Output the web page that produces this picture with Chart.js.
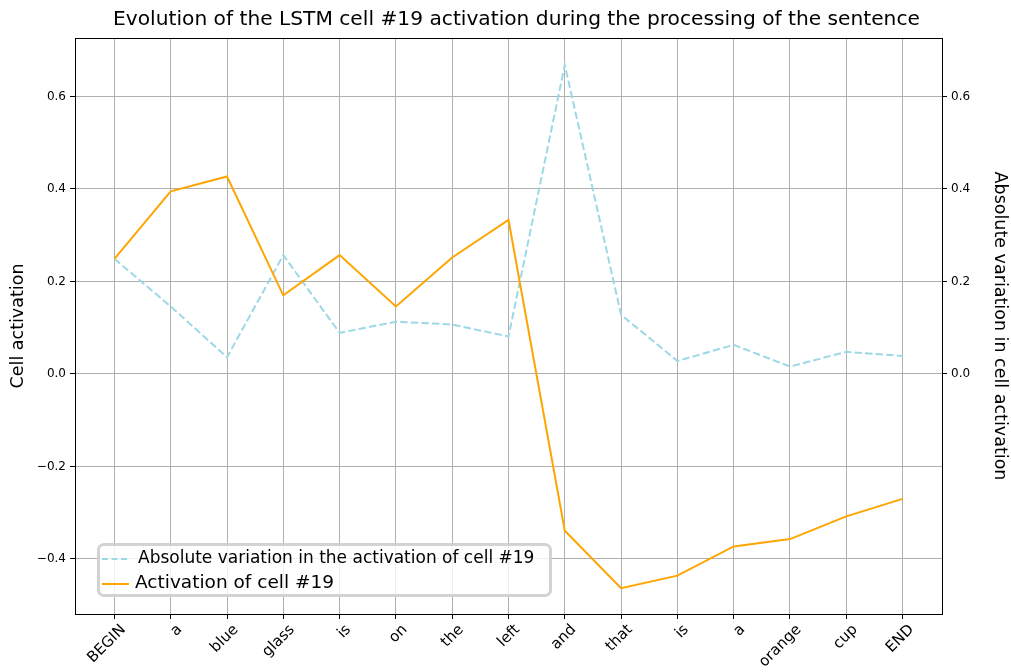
<!DOCTYPE html>
<html>
<head>
<meta charset="utf-8">
<script src="https://cdn.jsdelivr.net/npm/chart.js@4/dist/chart.umd.min.js"></script>
<style>
  html, body { margin: 0; padding: 0; background: #fff; }
  #wrap { position: relative; width: 1011px; height: 672px; }
  #title {
    position: absolute; left: 0; top: 6px; width: 1033px; text-align: center;
    font-family: "DejaVu Sans", sans-serif; font-size: 20.2px; line-height: 24px; color: #000;
    white-space: nowrap;
  }
  #legend {
    position: absolute; left: 97px; top: 543px; width: 449px; height: 48px;
    border: 3px solid rgba(200,200,200,0.8); border-radius: 7px;
    background: rgba(255,255,255,0.8);
    font-family: "DejaVu Sans", sans-serif; color: #000;
  }
  .row { position: absolute; left: 0; white-space: nowrap; }
  .swatch { position: absolute; left: 2px; width: 27px; height: 0; }
</style>
</head>
<body>
<div id="wrap">
  <canvas id="chart" width="1011" height="672"></canvas>
  <div id="title">Evolution of the LSTM cell #19 activation during the processing of the sentence</div>
  <div id="legend">
    <div class="row" style="top:1px;font-size:17px;">
      <span class="swatch" style="top:11px;border-top:2px dashed #9dd8e6;width:25px;"></span>
      <span style="position:absolute;left:38px;">Absolute&nbsp;variation&nbsp;in&nbsp;the&nbsp;activation&nbsp;of&nbsp;cell&nbsp;#19</span>
    </div>
    <div class="row" style="top:25px;font-size:18.5px;">
      <span class="swatch" style="top:12px;border-top:2px solid #ffa500;"></span>
      <span style="position:absolute;left:35px;">Activation&nbsp;of&nbsp;cell&nbsp;#19</span>
    </div>
  </div>
</div>
<script>
// sentence tokens on the x axis
const words = ["BEGIN", "a", "blue", "glass", "is", "on", "the", "left", "and", "that", "is", "a", "orange", "cup", "END"]

// cell #19 activation (left axis)
const activation = [0.249, 0.395, 0.427, 0.170, 0.257, 0.146, 0.252, 0.333, -0.339, -0.463, -0.436, -0.373, -0.357, -0.308, -0.270]

// absolute variation of the activation (right axis)
const variation = [0.249, 0.146, 0.036, 0.257, 0.089, 0.113, 0.107, 0.081, 0.668, 0.128, 0.028, 0.063, 0.016, 0.048, 0.039]

const leftTicks = [-0.4, -0.2, 0.0, 0.2, 0.4, 0.6]
const rightTicks = [0.0, 0.2, 0.4, 0.6]

const font = "DejaVu Sans"
const fmt = v => (v < 0 ? "\u2212" : "") + Math.abs(v).toFixed(1)

const frame = {
  id: "frame",
  afterDraw(chart) {
    const { ctx, chartArea: a } = chart
    ctx.save()
    ctx.strokeStyle = "#000"
    ctx.lineWidth = 1
    ctx.strokeRect(Math.round(a.left) + 0.5, Math.round(a.top) + 0.5, Math.round(a.right - a.left), Math.round(a.bottom - a.top))
    ctx.restore()
  }
}

new Chart(document.getElementById("chart"), {
  type: "line",
  data: {
    datasets: [
      {
        label: "Absolute variation in the activation of cell #19",
        data: variation.map((v, i) => ({ x: i, y: v })),
        yAxisID: "y2",
        borderColor: "#9dd8e6",
        borderWidth: 2,
        borderDash: [7.4, 3.2],
        pointRadius: 0,
        tension: 0,
        order: 2
      },
      {
        label: "Activation of cell #19",
        data: activation.map((v, i) => ({ x: i, y: v })),
        yAxisID: "y",
        borderColor: "#ffa500",
        borderWidth: 2,
        pointRadius: 0,
        tension: 0,
        order: 1
      }
    ]
  },
  options: {
    responsive: false,
    animation: false,
    layout: { padding: { top: 38 } },
    plugins: {
      legend: { display: false },
      tooltip: { enabled: false },
      title: { display: false }
    },
    scales: {
      x: {
        type: "linear",
        min: -0.7,
        max: 14.7,
        afterBuildTicks: s => { s.ticks = words.map((w, i) => ({ value: i })) },
        afterFit: s => { s.height = 58 },
        grid: { color: "#b0b0b0", lineWidth: 1, tickColor: "#000", tickLength: 5 },
        border: { color: "#000", width: 1 },
        ticks: {
          autoSkip: false,
          minRotation: 45,
          maxRotation: 45,
          labelOffset: 9,
          padding: 2,
          color: "#000",
          font: { family: font, size: 15 },
          callback: v => words[v]
        }
      },
      y: {
        position: "left",
        min: -0.519,
        max: 0.7265,
        afterBuildTicks: s => { s.ticks = leftTicks.map(v => ({ value: v })) },
        afterFit: s => { s.width = 75 },
        grid: { color: "#b0b0b0", lineWidth: 1, tickColor: "#000", tickLength: 5 },
        border: { color: "#000", width: 1 },
        ticks: { color: "#000", padding: 4, font: { family: font, size: 12 }, callback: fmt },
        title: {
          display: true,
          text: "Cell activation",
          color: "#000",
          font: { family: font, size: 17.5 },
          padding: { top: 7.5, bottom: 0 }
        }
      },
      y2: {
        position: "right",
        min: -0.519,
        max: 0.7265,
        afterBuildTicks: s => { s.ticks = rightTicks.map(v => ({ value: v })) },
        afterFit: s => { s.width = 69 },
        grid: { drawOnChartArea: false, tickColor: "#000", tickLength: 5 },
        border: { color: "#000", width: 1 },
        ticks: { color: "#000", padding: 4, font: { family: font, size: 12 }, callback: fmt },
        title: {
          display: true,
          text: "Absolute variation in cell activation",
          color: "#000",
          font: { family: font, size: 17.5 },
          padding: { top: 0.5, bottom: 0 }
        }
      }
    }
  },
  plugins: [frame]
})
</script>
</body>
</html>
